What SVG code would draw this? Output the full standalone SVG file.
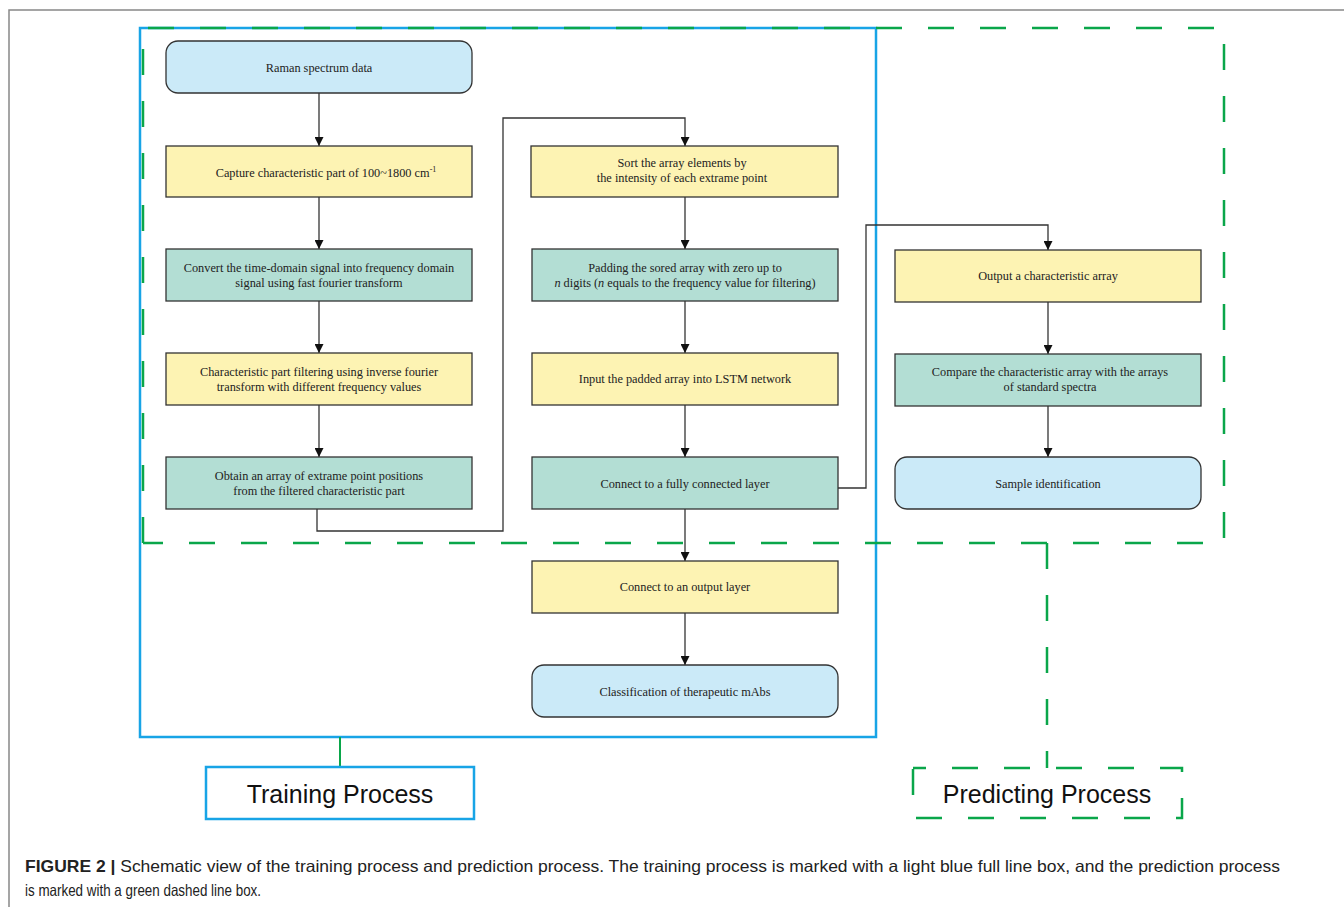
<svg xmlns="http://www.w3.org/2000/svg" width="1344" height="907" viewBox="0 0 1344 907">
<style>
.n{stroke:#333;stroke-width:1.3}
.y{fill:#fdf3b3}
.t{fill:#b3ded4}
.b{fill:#cbeaf8}
.lb{font-family:"Liberation Serif","Times New Roman",serif;font-size:12.3px;fill:#222;text-anchor:middle}
.c{fill:none;stroke:#333;stroke-width:1.3}
.gd{fill:none;stroke:#0aa64a;stroke-width:2.5;stroke-dasharray:26 26}
.big{font-family:"Liberation Sans",Arial,sans-serif;font-size:25px;fill:#111;text-anchor:middle}
.cap{font-family:"Liberation Sans",Arial,sans-serif;font-size:16.5px;fill:#222}
</style>
<defs>
<marker id="ah" viewBox="0 0 10 10" refX="10" refY="5" markerWidth="9" markerHeight="9" markerUnits="userSpaceOnUse" orient="auto">
<path d="M0,0 L10,5 L0,10 z" fill="#111"/>
</marker>
</defs>
<rect width="1344" height="907" fill="#fff"/>
<path d="M9,907 V10 H1344" fill="none" stroke="#888" stroke-width="1.5"/>

<g id="frames">
<rect x="140" y="28" width="736" height="709" fill="none" stroke="#18a4e6" stroke-width="2.5"/>
<path class="gd" d="M143,543 V28 H1224 V543 H143"/>
<line x1="1047" y1="543" x2="1047" y2="768" class="gd"/>
<line x1="340" y1="737" x2="340" y2="767" stroke="#0aa64a" stroke-width="2"/>
</g>

<g id="connectors">
<line class="c" x1="319" y1="93" x2="319" y2="146" marker-end="url(#ah)"/>
<line class="c" x1="319" y1="197" x2="319" y2="249" marker-end="url(#ah)"/>
<line class="c" x1="319" y1="301" x2="319" y2="353" marker-end="url(#ah)"/>
<line class="c" x1="319" y1="405" x2="319" y2="457" marker-end="url(#ah)"/>
<path class="c" d="M317,509 V531 H503 V118 H685 V146" marker-end="url(#ah)"/>
<line class="c" x1="685" y1="197" x2="685" y2="249" marker-end="url(#ah)"/>
<line class="c" x1="685" y1="301" x2="685" y2="353" marker-end="url(#ah)"/>
<line class="c" x1="685" y1="405" x2="685" y2="457" marker-end="url(#ah)"/>
<line class="c" x1="685" y1="509" x2="685" y2="561" marker-end="url(#ah)"/>
<line class="c" x1="685" y1="613" x2="685" y2="665" marker-end="url(#ah)"/>
<path class="c" d="M838,488 H866 V225 H1048 V250" marker-end="url(#ah)"/>
<line class="c" x1="1048" y1="302" x2="1048" y2="354" marker-end="url(#ah)"/>
<line class="c" x1="1048" y1="406" x2="1048" y2="457" marker-end="url(#ah)"/>
</g>

<g id="n1"><rect class="n b" x="166" y="41" width="306" height="52" rx="12"/><text class="lb" x="319" y="72">Raman spectrum data</text></g>
<g id="n2"><rect class="n y" x="166" y="146" width="306" height="51"/><text class="lb" x="326" y="177">Capture characteristic part of 100~1800 cm<tspan dy="-5" font-size="8">-1</tspan></text></g>
<g id="n3"><rect class="n t" x="166" y="249" width="306" height="52"/><text class="lb" x="319" y="272">Convert the time-domain signal into frequency domain</text><text class="lb" x="319" y="287">signal using fast fourier transform</text></g>
<g id="n4"><rect class="n y" x="166" y="353" width="306" height="52"/><text class="lb" x="319" y="376">Characteristic part filtering using inverse fourier</text><text class="lb" x="319" y="391">transform with different frequency values</text></g>
<g id="n5"><rect class="n t" x="166" y="457" width="306" height="52"/><text class="lb" x="319" y="480">Obtain an array of extrame point positions</text><text class="lb" x="319" y="495">from the filtered characteristic part</text></g>

<g id="m1"><rect class="n y" x="531" y="146" width="307" height="51"/><text class="lb" x="682" y="167">Sort the array elements by</text><text class="lb" x="682" y="182">the intensity of each extrame point</text></g>
<g id="m2"><rect class="n t" x="532" y="249" width="306" height="52"/><text class="lb" x="685" y="272">Padding the sored array with zero up to</text><text class="lb" x="685" y="287"><tspan font-style="italic">n</tspan> digits (<tspan font-style="italic">n</tspan> equals to the frequency value for filtering)</text></g>
<g id="m3"><rect class="n y" x="532" y="353" width="306" height="52"/><text class="lb" x="685" y="383">Input the padded array into LSTM network</text></g>
<g id="m4"><rect class="n t" x="532" y="457" width="306" height="52"/><text class="lb" x="685" y="488">Connect to a fully connected layer</text></g>
<g id="m5"><rect class="n y" x="532" y="561" width="306" height="52"/><text class="lb" x="685" y="591">Connect to an output layer</text></g>
<g id="m6"><rect class="n b" x="532" y="665" width="306" height="52" rx="12"/><text class="lb" x="685" y="696">Classification of therapeutic mAbs</text></g>

<g id="r1"><rect class="n y" x="895" y="250" width="306" height="52"/><text class="lb" x="1048" y="280">Output a characteristic array</text></g>
<g id="r2"><rect class="n t" x="895" y="354" width="306" height="52"/><text class="lb" x="1050" y="376">Compare the characteristic array with the arrays</text><text class="lb" x="1050" y="391">of standard spectra</text></g>
<g id="r3"><rect class="n b" x="895" y="457" width="306" height="52" rx="12"/><text class="lb" x="1048" y="488">Sample identification</text></g>

<g id="training-label"><rect x="206" y="767" width="268" height="52" fill="#fff" stroke="#18a4e6" stroke-width="2.5"/><text class="big" x="340" y="803">Training Process</text></g>
<g id="predicting-label"><rect x="913" y="768" width="269" height="50" class="gd" stroke-dashoffset="13"/><text class="big" x="1047" y="803">Predicting Process</text></g>

<g id="caption">
<text class="cap" x="25" y="872" textLength="1255" lengthAdjust="spacingAndGlyphs"><tspan font-weight="bold">FIGURE 2 | </tspan>Schematic view of the training process and prediction process. The training process is marked with a light blue full line box, and the prediction process</text>
<text class="cap" x="25" y="896" textLength="236" lengthAdjust="spacingAndGlyphs">is marked with a green dashed line box.</text>
</g>
</svg>
